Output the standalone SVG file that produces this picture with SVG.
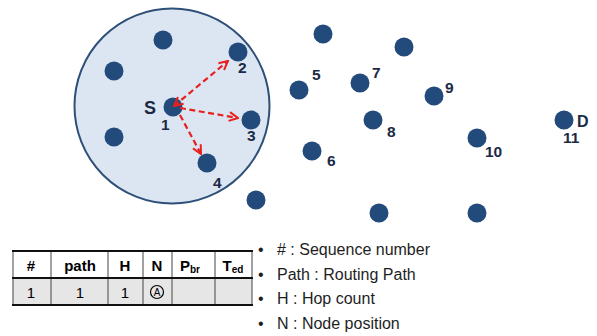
<svg xmlns="http://www.w3.org/2000/svg" width="597" height="336" viewBox="0 0 597 336">
<style>
.nd{fill:#224A7B}
.lb{font-family:"Liberation Sans",Arial,sans-serif;font-weight:bold;font-size:15.5px;fill:#1B2A44}
.ar{stroke:#E8201E;stroke-width:2.2;stroke-dasharray:6,3.5;fill:none}
.th{font-family:"Liberation Sans",Arial,sans-serif;font-weight:bold;font-size:15px;fill:#000;text-anchor:middle}
.td{font-family:"Liberation Sans",Arial,sans-serif;font-size:15px;fill:#000;text-anchor:middle}
.lg{font-family:"Liberation Sans",Arial,sans-serif;font-size:16px;fill:#1E1E1E}
</style>
<defs>
<marker id="ah" viewBox="0 0 10 10" refX="9" refY="5" markerWidth="5" markerHeight="5" orient="auto-start-reverse" markerUnits="strokeWidth">
<path d="M1,1 L9,5 L1,9" fill="none" stroke="#E8201E" stroke-width="1.8"/>
</marker>
</defs>
<circle cx="172" cy="106" r="97.5" fill="#DCE6F2" stroke="#2E4F77" stroke-width="2"/>
<g id="nodes">
<g id="n-a"><circle class="nd" cx="163" cy="40" r="9.5"/></g>
<g id="n-b"><circle class="nd" cx="114" cy="71" r="9.5"/></g>
<g id="n-c"><circle class="nd" cx="114" cy="137" r="9.5"/></g>
<g id="n1"><circle class="nd" cx="173" cy="107" r="9.5"/><text class="lb" x="144" y="114" style="font-size:18px">S</text><text class="lb" x="161" y="130">1</text></g>
<g id="n2"><circle class="nd" cx="238" cy="52" r="9.5"/><text class="lb" x="238" y="73">2</text></g>
<g id="n3"><circle class="nd" cx="251" cy="120" r="9.5"/><text class="lb" x="247" y="141">3</text></g>
<g id="n4"><circle class="nd" cx="207" cy="163" r="9.5"/><text class="lb" x="213" y="188">4</text></g>
<g id="n-d"><circle class="nd" cx="256" cy="200" r="9.5"/></g>
<g id="n-e"><circle class="nd" cx="323" cy="34" r="9.5"/></g>
<g id="n-f"><circle class="nd" cx="404" cy="47" r="9.5"/></g>
<g id="n5"><circle class="nd" cx="299" cy="90" r="9.5"/><text class="lb" x="312" y="80">5</text></g>
<g id="n7"><circle class="nd" cx="360" cy="83" r="9.5"/><text class="lb" x="372" y="78">7</text></g>
<g id="n9"><circle class="nd" cx="434" cy="96" r="9.5"/><text class="lb" x="445" y="93">9</text></g>
<g id="n8"><circle class="nd" cx="373" cy="120" r="9.5"/><text class="lb" x="387" y="137">8</text></g>
<g id="n6"><circle class="nd" cx="312" cy="151" r="9.5"/><text class="lb" x="327" y="166">6</text></g>
<g id="n10"><circle class="nd" cx="477" cy="138" r="9.5"/><text class="lb" x="485" y="157">10</text></g>
<g id="n11"><circle class="nd" cx="564" cy="120" r="9.5"/><text class="lb" x="577" y="127" style="font-size:16px">D</text><text class="lb" x="563" y="143">11</text></g>
<g id="n-g"><circle class="nd" cx="379" cy="213" r="9.5"/></g>
<g id="n-h"><circle class="nd" cx="477" cy="213" r="9.5"/></g>
</g>
<g id="connectors">
<line class="ar" x1="174" y1="106" x2="228" y2="61" marker-start="url(#ah)" marker-end="url(#ah)"/>
<line class="ar" x1="180" y1="108" x2="238" y2="118" marker-end="url(#ah)"/>
<line class="ar" x1="180" y1="115" x2="201" y2="154" marker-end="url(#ah)"/>
</g>
<g id="table">
<rect x="13" y="251" width="239" height="27" fill="#FFFFFF"/>
<rect x="13" y="278" width="239" height="27" fill="#E6E6E6"/>
<g stroke="#444" stroke-width="1">
<line x1="13" y1="251" x2="13" y2="305"/>
<line x1="51" y1="251" x2="51" y2="305"/>
<line x1="108" y1="251" x2="108" y2="305"/>
<line x1="143" y1="251" x2="143" y2="305"/>
<line x1="172" y1="251" x2="172" y2="305"/>
<line x1="215" y1="251" x2="215" y2="305"/>
<line x1="252" y1="251" x2="252" y2="305"/>
</g>
<g stroke="#111" stroke-width="2">
<line x1="12" y1="251" x2="253" y2="251"/>
<line x1="12" y1="278" x2="253" y2="278"/>
<line x1="12" y1="305" x2="253" y2="305"/>
</g>
<text class="th" x="31" y="271">#</text>
<text class="th" x="80" y="271">path</text>
<text class="th" x="125" y="271">H</text>
<text class="th" x="157" y="271">N</text>
<text class="th" x="190" y="271">P<tspan font-size="10" dy="2">br</tspan></text>
<text class="th" x="233" y="271">T<tspan font-size="10" dy="2">ed</tspan></text>
<text class="td" x="31" y="298">1</text>
<text class="td" x="80" y="298">1</text>
<text class="td" x="125" y="298">1</text>
<circle cx="157" cy="292" r="6.5" fill="none" stroke="#000" stroke-width="1.2"/>
<text class="td" x="157" y="296" style="font-size:10px">A</text>
</g>
<g id="legend">
<text class="lg" x="258" y="255">•</text><text class="lg" x="277" y="255">#  : Sequence number</text>
<text class="lg" x="258" y="280">•</text><text class="lg" x="277" y="280">Path : Routing Path</text>
<text class="lg" x="258" y="304">•</text><text class="lg" x="277" y="304">H : Hop count</text>
<text class="lg" x="258" y="329">•</text><text class="lg" x="277" y="329">N : Node position</text>
</g>
</svg>
